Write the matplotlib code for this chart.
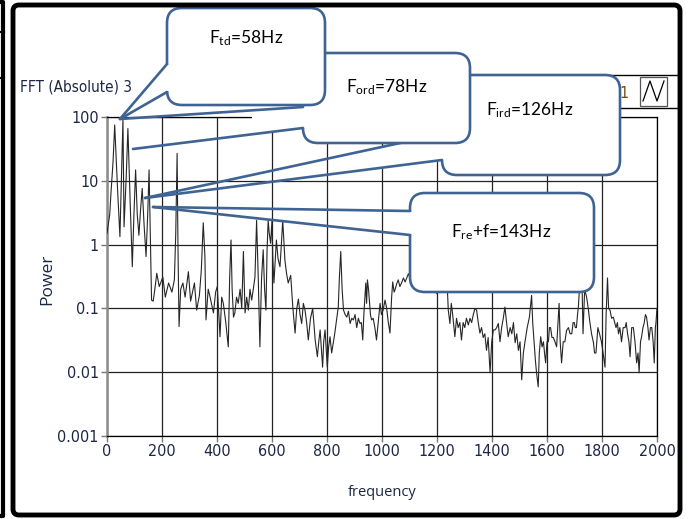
import matplotlib
matplotlib.use('Agg')
import matplotlib.pyplot as plt
from matplotlib import font_manager
from matplotlib.patches import FancyBboxPatch, Rectangle, Polygon
from matplotlib.ticker import FixedLocator, FixedFormatter

plt.rcParams['mathtext.fontset'] = 'custom'
plt.rcParams['mathtext.rm'] = 'Lato'
plt.rcParams['mathtext.it'] = 'Lato:italic'

# ------------------------------ datos ------------------------------
freq = [0, 10, 14, 22, 28, 38, 47, 58, 62, 70, 76, 84, 92, 98, 104, 110, 116, 122, 128, 135,
        142, 148, 153, 158, 162, 168, 174, 181, 190, 203, 212, 224, 236, 245, 250, 255, 258, 262,
        268, 276, 284, 296, 304, 318, 326, 336, 343, 350, 356, 360, 368, 375, 387, 395, 401, 411,
        417, 423, 432, 441, 446, 451, 455, 460, 465, 471, 477, 484, 490, 496, 502, 508, 514, 520,
        526, 532, 538, 544, 550, 556, 562, 568, 573, 578, 582, 586, 590, 595, 600, 603, 607, 612,
        616, 622, 629, 634, 639, 643, 647, 653, 659, 668, 676, 684, 690, 696, 702, 708, 714, 720,
        726, 732, 740, 748, 757, 765, 770, 775, 784, 788, 793, 801, 806, 811, 817, 823, 828, 833,
        841, 845, 850, 855, 860, 866, 872, 878, 884, 890, 896, 902, 908, 914, 920, 925, 930, 934,
        938, 941, 944, 947, 951, 955, 958, 962, 968, 974, 980, 986, 993, 998, 1004, 1011, 1017,
        1023, 1029, 1035, 1039, 1044, 1048, 1053, 1059, 1065, 1071, 1078, 1084, 1090, 1096, 1102,
        1110, 1118, 1126, 1134, 1142, 1150, 1160, 1170, 1180, 1190, 1199, 1207, 1217, 1224, 1230,
        1236, 1241, 1247, 1252, 1257, 1265, 1271, 1277, 1283, 1289, 1295, 1301, 1307, 1314, 1320,
        1326, 1332, 1338, 1344, 1350, 1356, 1362, 1368, 1374, 1380, 1386, 1393, 1399, 1405, 1411,
        1417, 1423, 1429, 1435, 1441, 1447, 1453, 1459, 1466, 1472, 1478, 1484, 1490, 1496, 1502,
        1508, 1514, 1520, 1528, 1536, 1544, 1548, 1553, 1558, 1562, 1568, 1572, 1577, 1582, 1587,
        1591, 1595, 1600, 1605, 1609, 1613, 1618, 1623, 1629, 1635, 1640, 1644, 1648, 1653, 1659,
        1665, 1671, 1678, 1684, 1690, 1695, 1699, 1703, 1707, 1711, 1714, 1718, 1723, 1727, 1731,
        1737, 1744, 1750, 1756, 1762, 1769, 1773, 1778, 1785, 1791, 1798, 1804, 1811, 1815, 1820,
        1824, 1829, 1835, 1841, 1846, 1851, 1856, 1860, 1865, 1871, 1877, 1884, 1888, 1893, 1898,
        1902, 1908, 1914, 1920, 1926, 1931, 1935, 1940, 1944, 1949, 1953, 1958, 1962, 1967, 1971,
        1976, 1981, 1986, 1990, 1994, 1996, 2000]
power = [1.5, 3, 6, 20, 75, 8, 1.33, 92, 1.9, 12, 66, 5, 0.45, 3, 14.8, 3, 1.4, 3.5, 7.6, 2,
         0.65, 3, 14.8, 1, 0.135, 0.13, 0.2, 0.355, 0.22, 0.31, 0.15, 0.25, 0.18, 0.28, 1.5, 27, 1, 0.052,
         0.2, 0.25, 0.15, 0.376, 0.13, 0.25, 0.094, 0.16, 0.4, 2.2, 0.65, 0.066, 0.2, 0.15, 0.085, 0.18, 0.22, 0.036,
         0.15, 0.12, 0.06, 0.025, 0.3, 1.18, 0.2, 0.073, 0.085, 0.15, 0.12, 0.2, 0.1, 0.78, 0.085, 0.15, 0.094, 0.2,
         0.135, 0.2, 0.31, 2.4, 0.3, 0.025, 0.3, 0.83, 0.2, 0.094, 0.8, 2.4, 1.5, 1.05, 2.4, 0.6, 0.25, 0.6,
         1.18, 0.6, 0.45, 1.0, 2.4, 1.2, 0.57, 0.35, 0.25, 0.33, 0.1, 0.041, 0.1, 0.14, 0.08, 0.058, 0.12, 0.094,
         0.06, 0.032, 0.07, 0.1, 0.032, 0.0175, 0.03, 0.046, 0.012, 0.03, 0.046, 0.012, 0.025, 0.036, 0.02, 0.029, 0.04, 0.058,
         0.105, 0.3, 0.78, 0.2, 0.094, 0.08, 0.073, 0.09, 0.058, 0.07, 0.066, 0.08, 0.05, 0.07, 0.058, 0.06, 0.032, 0.08,
         0.15, 0.25, 0.12, 0.28, 0.2, 0.12, 0.08, 0.066, 0.07, 0.05, 0.032, 0.06, 0.12, 0.08, 0.094, 0.135, 0.1,
         0.06, 0.041, 0.15, 0.26, 0.18, 0.2, 0.24, 0.28, 0.22, 0.25, 0.3, 0.26, 0.3, 0.35, 0.3,
         0.4, 0.35, 0.5, 0.45, 0.4, 0.5, 0.4, 0.45, 0.35, 0.3, 0.17, 0.25, 0.2, 0.3, 0.25,
         0.3, 0.094, 0.058, 0.12, 0.08, 0.036, 0.07, 0.05, 0.06, 0.032, 0.06, 0.05, 0.07, 0.055, 0.07,
         0.06, 0.08, 0.1, 0.094, 0.06, 0.041, 0.05, 0.035, 0.04, 0.022, 0.035, 0.0098, 0.03, 0.046, 0.046,
         0.05, 0.058, 0.03, 0.05, 0.07, 0.105, 0.06, 0.036, 0.05, 0.04, 0.06, 0.029, 0.04, 0.022, 0.03,
         0.0076, 0.02, 0.03, 0.05, 0.073, 0.16, 0.06, 0.03, 0.015, 0.0098, 0.0059, 0.02, 0.036, 0.025, 0.03,
         0.02, 0.014, 0.03, 0.03, 0.05, 0.05, 0.035, 0.035, 0.03, 0.025, 0.06, 0.12, 0.03, 0.014, 0.03,
         0.03, 0.045, 0.05, 0.04, 0.04, 0.06, 0.06, 0.05, 0.05, 0.08, 0.105, 0.2, 0.5, 0.3, 0.04,
         0.2, 0.15, 0.1, 0.06, 0.04, 0.029, 0.02, 0.02, 0.05, 0.04, 0.03, 0.02, 0.012, 0.08, 0.3,
         0.1, 0.094, 0.07, 0.073, 0.06, 0.05, 0.06, 0.04, 0.05, 0.03, 0.05, 0.05, 0.06, 0.04, 0.03,
         0.0175, 0.05, 0.05, 0.03, 0.014, 0.02, 0.0098, 0.03, 0.036, 0.05, 0.058, 0.08, 0.073, 0.05, 0.032,
         0.05, 0.05, 0.03, 0.014, 0.05, 0.058, 0.1]

xticks = [0, 200, 400, 600, 800, 1000, 1200, 1400, 1600, 1800, 2000]
yticks = [0.001, 0.01, 0.1, 1, 10, 100]
ylabels = ['0.001', '0.01', '0.1', '1', '10', '100']

callouts = [r'F$_{\mathrm{td}}$=58Hz', r'F$_{\mathrm{ord}}$=78Hz',
            r'F$_{\mathrm{ird}}$=126Hz', r'F$_{\mathrm{re}}$+f=143Hz']

# ------------------------------ figura ------------------------------
# fuente estrecha parecida a la de LabVIEW
fp_narrow = font_manager.FontProperties(family='DejaVu Sans', stretch='condensed', size=11.5)
fp_title = font_manager.FontProperties(family='DejaVu Sans', stretch='condensed', size=11)
txtcol = '#1c2745'
azul = '#3f6494'

fig = plt.figure(figsize=(6.9, 5.19), dpi=100)
W, H = 690, 519
ax = fig.add_axes([107 / W, 1 - 436 / H, 550 / W, 319 / H])
ax.plot(freq, power, color='#262626', lw=0.8, zorder=3)
ax.set_yscale('log')
ax.set_xlim(0, 2000)
ax.set_ylim(0.001, 100)
ax.xaxis.set_major_locator(FixedLocator(xticks))
ax.yaxis.set_major_locator(FixedLocator(yticks))
ax.yaxis.set_major_formatter(FixedFormatter(ylabels))
ax.yaxis.set_minor_locator(FixedLocator([]))
ax.grid(True, color='#222222', lw=0.9)
ax.tick_params(direction='out', length=4.5, width=1, color='#777777', pad=1.5,
               labelcolor=txtcol)
for lab in ax.get_xticklabels() + ax.get_yticklabels():
    lab.set_fontproperties(fp_narrow)
for s in ['top', 'right', 'bottom']:
    ax.spines[s].set_color('black')
    ax.spines[s].set_linewidth(0.9)
ax.spines['left'].set_color('#8c8c8c')
ax.spines['left'].set_linewidth(1.8)
ax.set_xlabel('frequency', fontsize=10.5, family='Open Sans', color=txtcol)
ax.set_ylabel('Power', fontsize=12.5, family='Open Sans', color=txtcol)
ax.xaxis.set_label_coords(0.5, -0.155)
ax.yaxis.set_label_coords(-0.095, 0.49)

fig.text(20 / W, 1 - 87 / H, 'FFT (Absolute) 3', fontproperties=fp_title,
         color=txtcol, ha='left', va='center')

# capa superior en píxeles para los globos y marcos
ov = fig.add_axes([0, 0, 1, 1], zorder=5)
ov.set_xlim(0, W)
ov.set_ylim(H, 0)
ov.axis('off')
ov.patch.set_alpha(0)


def globo(x0, y0, x1, y1, z):
    ov.add_patch(FancyBboxPatch((x0, y0), x1 - x0, y1 - y0,
                                boxstyle='round,pad=0,rounding_size=15',
                                fc='white', ec=azul, lw=1.9, zorder=z))


def abertura(x, ya, yb, z):
    ov.add_patch(Rectangle((x - 2.5, ya + 1.2), 5, yb - ya - 2.4, fc='white',
                           ec='none', zorder=z))


def linea(p, q, z):
    ov.plot([p[0], q[0]], [p[1], q[1]], color=azul, lw=1.9, zorder=z,
            solid_capstyle='round')


def y_en(p, q, x):
    return p[1] + (q[1] - p[1]) * (x - p[0]) / (q[0] - p[0])


def relleno(p1, q1, p2, q2, xs, z):
    # parte blanca de la cola, junto al globo
    pts = [(xs, y_en(p1, q1, xs)), q1, q2, (xs, y_en(p2, q2, xs))]
    ov.add_patch(Polygon(pts, closed=True, fc='white', ec='none', zorder=z))


# F_ird (fondo)
globo(442, 75, 620, 175, 2)
relleno((145, 198), (444, 134), (145, 198), (444, 160), 355, 2.1)
linea((145, 198), (442, 134), 2.2)
linea((145, 198), (442, 160), 2.2)
ov.text(530, 110, callouts[2], fontsize=12.5, family='Lato', ha='center', va='center', zorder=2.3)

# F_ord
globo(303, 53, 470, 143, 3)
relleno((120, 119), (305, 107), (133, 149), (305, 128), 252, 3.1)
linea((120, 119), (303, 107), 3.2)
linea((133, 149), (303, 128), 3.2)
ov.text(387, 87, callouts[1], fontsize=12.5, family='Lato', ha='center', va='center', zorder=3.3)

# F_td (arriba)
globo(167, 8, 325, 105, 4)
abertura(167, 64, 92, 4.1)
linea((120, 119), (167, 64), 4.2)
linea((120, 119), (167, 92), 4.2)
ov.text(246, 38, callouts[0], fontsize=12.5, family='Lato', ha='center', va='center', zorder=4.3)

# F_re + f
globo(410, 193, 594, 292, 2)
abertura(410, 211, 235, 2.1)
linea((153, 207), (410, 211), 2.2)
linea((153, 207), (410, 235), 2.2)
ov.text(501, 232, callouts[3], fontsize=12.5, family='Lato', ha='center', va='center', zorder=2.3)

# franja de leyenda arriba a la derecha
ov.plot([600, 680], [75, 75], color='black', lw=1, zorder=1)
ov.plot([617, 680], [108, 108], color='black', lw=1, zorder=1)
ov.add_patch(Rectangle((640, 77), 27, 29, fc='white', ec='#555555', lw=0.9, zorder=1))
ov.plot([643, 650, 657, 664], [101, 81, 101, 81], color='black', lw=0.9, zorder=1.1)
ov.text(624, 93, '1', fontproperties=fp_narrow, color='#7a4a10', ha='center',
        va='center', zorder=1)

# marcos negros
ov.add_patch(FancyBboxPatch((13, 5), 667, 510, boxstyle='round,pad=0,rounding_size=6',
                            fc='none', ec='black', lw=3.5, zorder=6))
ov.plot([0, 3, 3, 0], [2, 2, 516, 516], color='black', lw=3, zorder=6)
ov.plot([0, 4], [32, 32], color='black', lw=1.5, zorder=6)
ov.plot([0, 4], [78, 78], color='black', lw=1.5, zorder=6)

fig.savefig('out.png', dpi=100)
